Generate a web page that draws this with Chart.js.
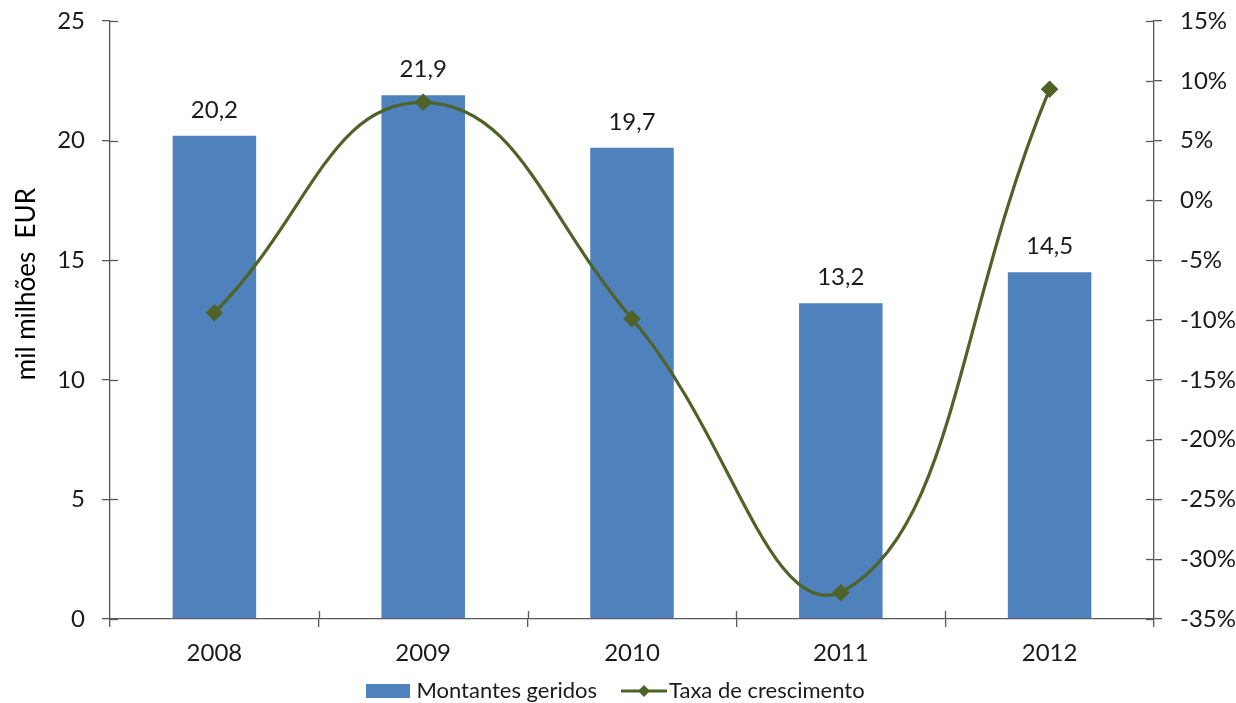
<!DOCTYPE html>
<html><head><meta charset="utf-8">
<script src="https://cdn.jsdelivr.net/npm/chart.js@4.4.0/dist/chart.umd.min.js"></script>
<style>html,body{margin:0;padding:0;background:#fff}#wrap{width:1236px;height:703px}</style>
</head><body><div id="wrap"><canvas id="c" width="1236" height="703"></canvas></div>
<script>
const categories = ['2008', '2009', '2010', '2011', '2012'];
const montantes = [20.2, 21.9, 19.7, 13.2, 14.5];
const taxa = [-9.4, 8.2, -9.9, -32.8, 9.3];
const leftTicks = [0, 5, 10, 15, 20, 25];
const rightTicks = [-35, -30, -25, -20, -15, -10, -5, 0, 5, 10, 15];
const yTitle = 'mil milhões  EUR';
const seriesNames = ['Montantes geridos', 'Taxa de crescimento'];

const FONT = 'Lato';
const FS = 24;
const TXT = '#1a1a1a';
const AX = '#595959';
const BLUE = '#4F81BD';
const GREEN = '#4F6228';

function swatchBar(){const c=document.createElement('canvas');c.width=44;c.height=14;const x=c.getContext('2d');x.fillStyle=BLUE;x.fillRect(0,0,44,14);return c;}
function swatchLine(){const c=document.createElement('canvas');c.width=52;c.height=14;const x=c.getContext('2d');x.strokeStyle=GREEN;x.lineWidth=3;x.beginPath();x.moveTo(6,7);x.lineTo(52,7);x.stroke();x.fillStyle=GREEN;x.beginPath();x.moveTo(29,1);x.lineTo(35,7);x.lineTo(29,13);x.lineTo(23,7);x.closePath();x.fill();return c;}

const extras = {
  id:'extras',
  afterDatasetsDraw(chart){
    const ctx=chart.ctx, ca=chart.chartArea;
    ctx.save();ctx.strokeStyle=AX;ctx.lineWidth=1.3;
    const y=chart.scales.y, y1=chart.scales.y1, xs=chart.scales.x;
    y.ticks.forEach((t,i)=>{const p=Math.round(y.getPixelForTick(i))+0.5;ctx.beginPath();ctx.moveTo(ca.left,p);ctx.lineTo(ca.left+8,p);ctx.stroke();});
    y1.ticks.forEach((t,i)=>{const p=Math.round(y1.getPixelForTick(i))+0.5;ctx.beginPath();ctx.moveTo(ca.right,p);ctx.lineTo(ca.right-8,p);ctx.stroke();});
    const n=categories.length;const w=(xs.getPixelForValue(1)-xs.getPixelForValue(0));
    for(let i=1;i<n;i++){const p=Math.round(xs.getPixelForValue(i)-w/2)+0.5;ctx.beginPath();ctx.moveTo(p,ca.bottom);ctx.lineTo(p,ca.bottom-8);ctx.stroke();}
    ctx.restore();
  },
  afterDraw(chart){
    const ctx=chart.ctx;const meta=chart.getDatasetMeta(0);const ca=chart.chartArea;
    ctx.save();ctx.font=FS+'px '+FONT;ctx.fillStyle=TXT;ctx.textAlign='center';ctx.textBaseline='alphabetic';
    meta.data.forEach((bar,i)=>{ctx.fillText(montantes[i].toFixed(1).replace('.',','),bar.x,bar.y-18);});
    ctx.restore();
    ctx.save();ctx.font='26px '+FONT;ctx.fillStyle='#000';ctx.textAlign='center';ctx.textBaseline='middle';
    ctx.translate(27, ca.top + (ca.bottom-ca.top)*0.44);ctx.rotate(-Math.PI/2);ctx.fillText(yTitle,0,0);
    ctx.restore();
  }
};

new Chart(document.getElementById('c'),{
  data:{labels:categories,datasets:[
    {type:'bar',label:seriesNames[0],data:montantes,backgroundColor:BLUE,yAxisID:'y',order:1,categoryPercentage:1,barPercentage:0.4},
    {type:'line',label:seriesNames[1],data:taxa,borderColor:GREEN,backgroundColor:GREEN,borderWidth:3.2,pointStyle:'rectRot',pointRadius:6.5,pointBackgroundColor:GREEN,pointBorderColor:GREEN,tension:0.45,yAxisID:'y1',order:0}
  ]},
  options:{
    responsive:false,animation:false,
    layout:{padding:{top:21,left:0,right:0,bottom:-9}},
    plugins:{
      tooltip:{enabled:false},
      legend:{position:'bottom',labels:{
        font:{family:FONT,size:22},color:TXT,usePointStyle:true,pointStyleWidth:34,padding:10,
        generateLabels(){return [
          {text:seriesNames[0]+'   ',pointStyle:swatchBar(),fillStyle:BLUE,strokeStyle:BLUE,lineWidth:0,datasetIndex:0,fontColor:TXT},
          {text:seriesNames[1],pointStyle:swatchLine(),fillStyle:GREEN,strokeStyle:GREEN,lineWidth:0,datasetIndex:1,fontColor:TXT}
        ];}
      }}
    },
    scales:{
      x:{offset:true,grid:{offset:true,drawOnChartArea:false,tickLength:8,color:AX,lineWidth:1.3},border:{color:AX,width:1.3},
        ticks:{font:{family:FONT,size:FS},color:TXT,padding:12},
        afterFit(s){s.height=51;}},
      y:{position:'left',min:0,max:25,afterBuildTicks(s){s.ticks=leftTicks.map(v=>({value:v}));},
        grid:{drawOnChartArea:false,tickLength:8,color:AX,lineWidth:1.3},border:{color:AX,width:1.3},
        ticks:{font:{family:FONT,size:FS},color:TXT,padding:17},
        afterFit(s){s.width=110;s.paddingTop=0;s.paddingBottom=0;}},
      y1:{position:'right',min:-35,max:15,afterBuildTicks(s){s.ticks=rightTicks.map(v=>({value:v}));},
        grid:{drawOnChartArea:false,tickLength:8,color:AX,lineWidth:1.3},border:{color:AX,width:1.3},
        ticks:{font:{family:FONT,size:FS},color:TXT,padding:18,callback:v=>v+'%'},
        afterFit(s){s.width=82;s.paddingTop=0;s.paddingBottom=0;}}
    }
  },
  plugins:[extras]
});
</script></body></html>
